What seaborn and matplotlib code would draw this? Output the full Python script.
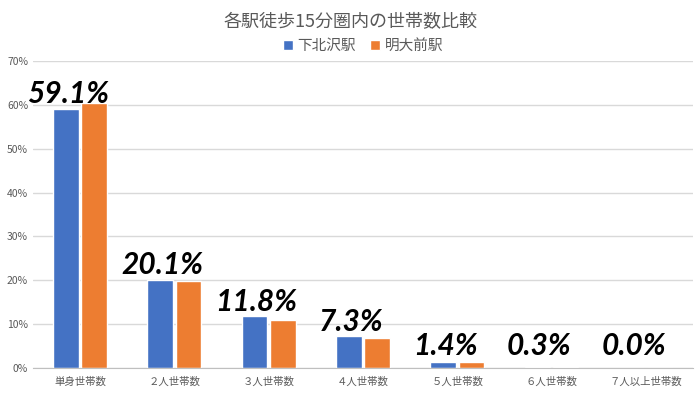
import matplotlib.pyplot as plt
import seaborn as sns
import pandas as pd
from matplotlib.ticker import PercentFormatter

plt.switch_backend('Agg')

# household-size categories and shares (%) within 15 min walk
categories = ['単身世帯数', '２人世帯数', '３人世帯数', '４人世帯数', '５人世帯数', '６人世帯数', '７人以上世帯数']
shimokitazawa = [59.1, 20.1, 11.8, 7.3, 1.4, 0.3, 0.0]
meidaimae = [60.5, 19.8, 10.9, 6.9, 1.3, 0.3, 0.1]
stations = ['下北沢駅', '明大前駅']
colors = ['#4472C4', '#ED7D31']

df = pd.DataFrame({
    'category': categories * 2,
    'value': shimokitazawa + meidaimae,
    'station': [stations[0]] * len(categories) + [stations[1]] * len(categories),
})

sns.set_style('white')
plt.rcParams['font.family'] = ['Noto Sans CJK JP', 'DejaVu Sans']

fig = plt.figure(figsize=(7, 3.94), dpi=100)
ax = fig.add_axes([0.047, 0.066, 0.943, 0.779])

sns.barplot(data=df, x='category', y='value', hue='station', palette=colors,
            width=0.6, gap=0.1, saturation=1, ax=ax, legend=True)

ax.set_ylim(0, 70)
ax.set_yticks(range(0, 71, 10))
ax.yaxis.set_major_formatter(PercentFormatter(decimals=0))
ax.grid(axis='y', color='#d9d9d9', linewidth=1)
ax.set_axisbelow(True)
for side in ['top', 'right', 'left']:
    ax.spines[side].set_visible(False)
ax.spines['bottom'].set_color('#bfbfbf')
ax.tick_params(axis='both', length=0, labelsize=7.5, colors='#595959')
ax.tick_params(axis='x', pad=6)
ax.set_xlabel('')
ax.set_ylabel('')
ax.set_xlim(-0.5, len(categories) - 0.5)

# value labels for the first station
for i, v in enumerate(shimokitazawa):
    ax.text(i - 0.13, max(v, 1.8) + 0.1, f'{v:.1f}%', ha='center', va='bottom',
            fontsize=21.5, fontweight='bold', fontstyle='italic',
            family=['Lato', 'DejaVu Sans'], color='black')

fig.text(0.5, 0.945, '各駅徒歩15分圏内の世帯数比較', ha='center', va='center',
         fontsize=13, color='#595959')

ax.legend(loc='center', bbox_to_anchor=(0.5, 1.05), ncol=2, frameon=False,
          fontsize=10.5, handlelength=0.7, handleheight=0.7, handletextpad=0.3,
          columnspacing=1.0, labelcolor='#595959')

plt.savefig('out.png', dpi=100)
plt.close(fig)
